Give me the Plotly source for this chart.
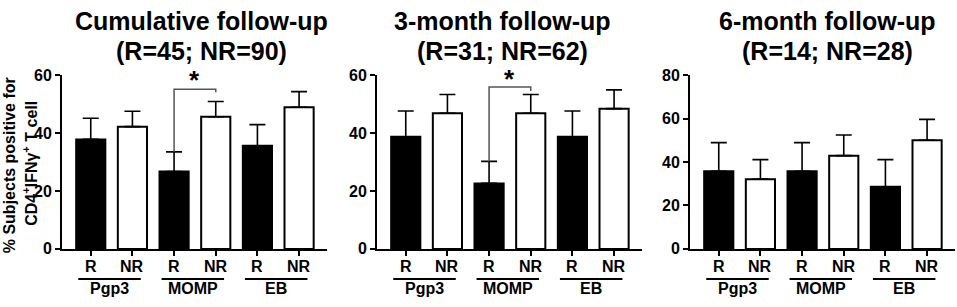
import plotly.graph_objects as go

# ---- data ----
bar_labels = ["R", "NR", "R", "NR", "R", "NR"]
antigens = ["Pgp3", "MOMP", "EB"]
panel_titles = ["Cumulative follow-up", "3-month follow-up", "6-month follow-up"]
panel_counts = ["(R=45; NR=90)", "(R=31; NR=62)", "(R=14; NR=28)"]

cum_values = [37.8, 42.2, 26.7, 45.6, 35.6, 48.9]
cum_errors = [7.3, 5.3, 6.8, 5.3, 7.3, 5.4]
m3_values = [38.7, 46.8, 22.6, 46.8, 38.7, 48.4]
m3_errors = [8.9, 6.5, 7.6, 6.5, 8.9, 6.5]
m6_values = [35.7, 32.1, 35.7, 42.9, 28.6, 50.0]
m6_errors = [13.2, 9.0, 13.2, 9.5, 12.5, 9.6]

y_max = [60, 60, 80]
y_ticks = [[0, 20, 40, 60], [0, 20, 40, 60], [0, 20, 40, 60, 80]]
# significance brackets: (panel, left bar, right bar, bracket top, right end, star y)
sig_brackets = [(0, 2, 3, 55.1, 54.1, 58.3), (1, 2, 3, 55.9, 54.5, 58.8)]

values = [cum_values, m3_values, m6_values]
errors = [cum_errors, m3_errors, m6_errors]

# ---- layout helpers ----
W, H = 957, 307
FONT = "Liberation Sans, Arial, Helvetica, sans-serif"
px_domains = [(62, 327), (377, 642), (690, 955)]
y_top_px, y_bot_px = 71, 255
ydom = [1 - y_bot_px / H, 1 - y_top_px / H]
title_cx = [201, 502, 827]

fig = go.Figure()
x_idx = list(range(len(bar_labels)))
colors = ["black" if lab == "R" else "white" for lab in bar_labels]

for p in range(3):
    suffix = "" if p == 0 else str(p + 1)
    fig.add_trace(go.Bar(
        x=x_idx, y=values[p],
        xaxis="x" + suffix, yaxis="y" + suffix,
        width=0.7,
        marker=dict(color=colors, line=dict(color="black", width=2)),
        error_y=dict(type="data", array=errors[p], arrayminus=[0] * 6,
                     symmetric=False, color="black", thickness=1.6, width=8),
        showlegend=False, hoverinfo="skip",
    ))
    d0, d1 = px_domains[p]
    xa = dict(domain=[d0 / W, d1 / W], range=[-0.69, 5.67],
              tickvals=x_idx, showticklabels=False,
              showline=True, linecolor="black", linewidth=2,
              ticks="outside", ticklen=5, tickwidth=2, tickcolor="black",
              showgrid=False, zeroline=False, fixedrange=True,
              anchor="y" + suffix)
    ya = dict(domain=ydom, range=[0, y_max[p]], tickvals=y_ticks[p],
              tickfont=dict(family=FONT, size=16, color="black", weight="bold"),
              showline=True, linecolor="black", linewidth=2,
              ticks="outside", ticklen=5, tickwidth=2, tickcolor="black",
              showgrid=False, zeroline=False, fixedrange=True,
              anchor="x" + suffix)
    fig.update_layout(**{"xaxis" + suffix: xa, "yaxis" + suffix: ya})

    # R / NR category labels
    for i, lab in zip(x_idx, bar_labels):
        fig.add_annotation(text=lab, x=i, y=1 - 274 / H,
                           xref="x" + suffix, yref="paper", showarrow=False,
                           xanchor="center", yanchor="middle",
                           font=dict(family=FONT, size=16, color="black", weight="bold"))

    # titles
    fig.add_annotation(text=panel_titles[p], x=title_cx[p] / W, y=1 - 14 / H,
                       xref="paper", yref="paper", showarrow=False,
                       xanchor="center", yanchor="middle",
                       font=dict(family=FONT, size=25, color="black", weight="bold"))
    fig.add_annotation(text=panel_counts[p], x=title_cx[p] / W, y=1 - 45 / H,
                       xref="paper", yref="paper", showarrow=False,
                       xanchor="center", yanchor="middle",
                       font=dict(family=FONT, size=25, color="black", weight="bold"))

    # antigen group underlines and labels
    for g, name in enumerate(antigens):
        i0 = 2 * g
        fig.add_shape(type="line", xref="x" + suffix, yref="paper",
                      x0=i0 - 0.3, x1=i0 + 1.2, y0=1 - 287 / H, y1=1 - 287 / H,
                      line=dict(color="black", width=2))
        fig.add_annotation(text=name, x=i0 + 0.45, y=1 - 297 / H,
                           xref="x" + suffix, yref="paper", showarrow=False,
                           xanchor="center", yanchor="middle",
                           font=dict(family=FONT, size=16, color="black", weight="bold"))

# significance brackets
for (p, a, b, top, rend, sy) in sig_brackets:
    suffix = "" if p == 0 else str(p + 1)
    start = values[p][a] + errors[p][a]
    fig.add_shape(type="path", xref="x" + suffix, yref="y" + suffix,
                  path=f"M {a} {start} L {a} {top} L {b} {top} L {b} {rend}",
                  line=dict(color="#555555", width=1.5))
    fig.add_annotation(text="*", x=(a + b) / 2, y=sy,
                       xref="x" + suffix, yref="y" + suffix, showarrow=False,
                       xanchor="center", yanchor="middle",
                       font=dict(family=FONT, size=26, color="black", weight="bold"))

# y-axis title (two lines)
fig.add_annotation(text="% Subjects positive for", x=9.5 / W, y=1 - 167 / H,
                   xref="paper", yref="paper", showarrow=False, textangle=-90,
                   xanchor="center", yanchor="middle",
                   font=dict(family=FONT, size=16, color="black", weight="bold"))
fig.add_annotation(text="CD4<sup>+</sup>IFNγ<sup>+</sup> T cell", x=30 / W, y=1 - 165 / H,
                   xref="paper", yref="paper", showarrow=False, textangle=-90,
                   xanchor="center", yanchor="middle",
                   font=dict(family=FONT, size=16, color="black", weight="bold"))

fig.update_layout(width=W, height=H, margin=dict(l=0, r=0, t=0, b=0),
                  paper_bgcolor="white", plot_bgcolor="white",
                  bargap=0.3)

fig.write_html("out.html", config={"displayModeBar": False},
               post_script="document.body.style.margin='0';document.body.style.overflow='hidden';")
